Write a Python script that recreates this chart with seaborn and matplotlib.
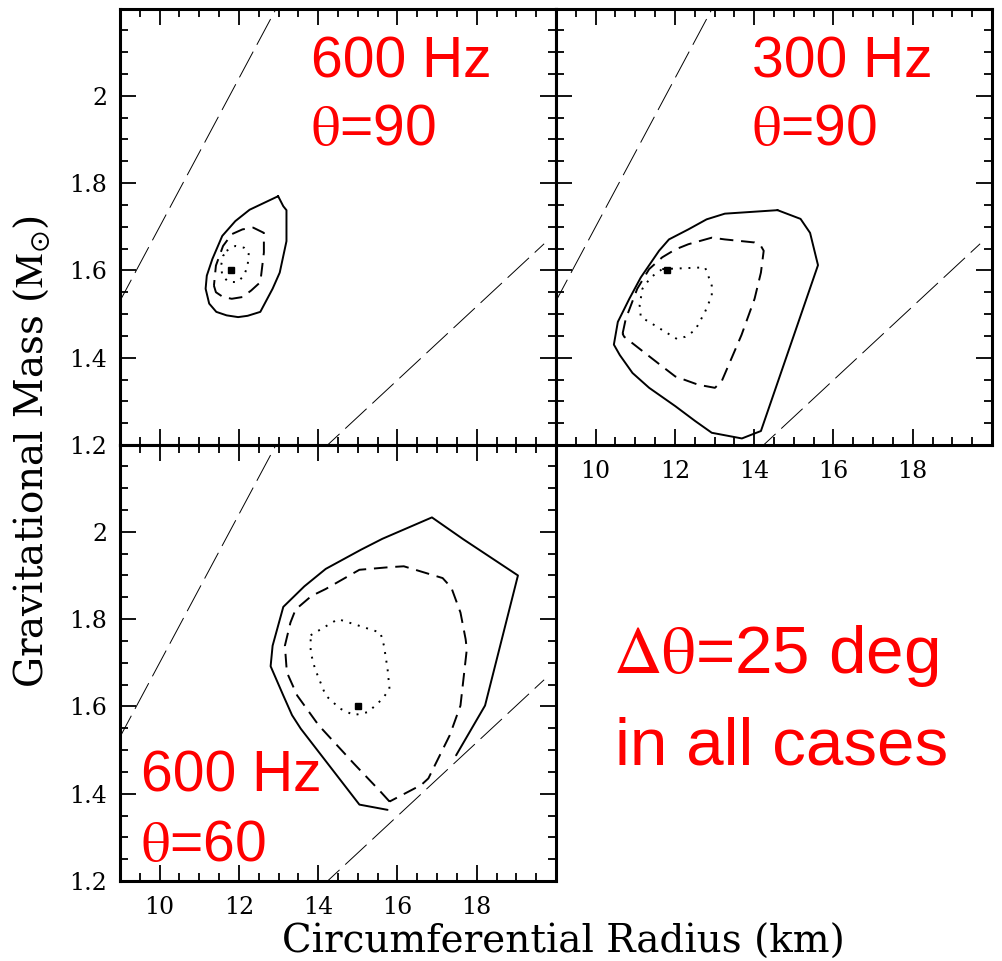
import numpy as np
import pandas as pd
import matplotlib
matplotlib.use("Agg")
import matplotlib.pyplot as plt
import seaborn as sns
from matplotlib.ticker import MultipleLocator, FixedLocator, FuncFormatter

sns.set_style("ticks")
plt.rcParams['font.family'] = ['DejaVu Serif']
plt.rcParams['mathtext.fontset'] = 'stix'
plt.rcParams['axes.edgecolor'] = 'black'
plt.rcParams['xtick.color'] = 'black'
plt.rcParams['ytick.color'] = 'black'
plt.rcParams['text.color'] = 'black'

# ---- data (R in km, M in solar masses) ----
# panel a: 600 Hz, theta=90
a_best = (11.8, 1.6)
a_solid_r = [12.99, 13.12, 13.20, 13.20, 13.03, 12.85, 12.54, 12.22, 11.98, 11.69, 11.43, 11.25, 11.16, 11.19, 11.33, 11.58, 11.91, 12.27]
a_solid_m = [1.770, 1.747, 1.738, 1.667, 1.595, 1.558, 1.505, 1.496, 1.493, 1.497, 1.505, 1.524, 1.558, 1.588, 1.626, 1.679, 1.713, 1.739]
a_dash_r = [11.37, 11.42, 11.60, 11.82, 12.09, 12.31, 12.54, 12.58, 12.63, 12.63, 12.36, 12.09, 11.82, 11.60, 11.42]
a_dash_m = [1.565, 1.550, 1.539, 1.535, 1.539, 1.554, 1.573, 1.603, 1.641, 1.686, 1.698, 1.694, 1.683, 1.656, 1.611]
a_dot_r = [11.69, 11.91, 12.13, 12.25, 12.22, 12.13, 11.96, 11.73, 11.58, 11.55, 11.60]
a_dot_m = [1.645, 1.656, 1.652, 1.641, 1.611, 1.588, 1.573, 1.574, 1.588, 1.611, 1.633]

# panel b: 300 Hz, theta=90
b_best = (11.8, 1.6)
b_solid_r = [14.59, 15.17, 15.41, 15.61, 14.17, 13.97, 13.69, 12.93, 12.51, 12.01, 11.35, 10.93, 10.61, 10.46, 10.56, 10.85, 11.14, 11.60, 11.85, 12.34, 12.80, 13.26]
b_solid_m = [1.738, 1.718, 1.686, 1.612, 1.232, 1.225, 1.215, 1.228, 1.255, 1.289, 1.331, 1.365, 1.406, 1.430, 1.482, 1.535, 1.584, 1.645, 1.671, 1.694, 1.717, 1.730]
b_dash_r = [10.68, 10.76, 11.05, 11.35, 11.68, 12.01, 12.34, 12.93, 13.26, 14.01, 14.17, 14.24, 14.17, 14.01, 13.68, 13.18, 13.01, 12.59, 12.01, 11.68, 11.10, 10.72]
b_dash_m = [1.455, 1.489, 1.558, 1.603, 1.630, 1.648, 1.660, 1.675, 1.671, 1.664, 1.656, 1.645, 1.595, 1.535, 1.452, 1.346, 1.331, 1.338, 1.357, 1.380, 1.421, 1.448]
b_dot_r = [11.68, 12.76, 12.84, 12.93, 12.93, 12.76, 12.51, 12.26, 12.05, 11.76, 11.35, 11.14, 11.11, 11.18, 11.39]
b_dot_m = [1.603, 1.607, 1.588, 1.565, 1.542, 1.505, 1.463, 1.448, 1.443, 1.459, 1.482, 1.493, 1.520, 1.558, 1.584]

# panel c: 600 Hz, theta=60 (solid contour is open, cut by the lower bound)
c_best = (15.0, 1.6)
c_solid_r = [15.75, 15.04, 13.56, 13.34, 13.12, 12.80, 12.85, 13.12, 13.65, 14.19, 15.08, 15.62, 16.87, 17.66, 19.04, 18.21, 17.48]
c_solid_m = [1.363, 1.375, 1.549, 1.580, 1.625, 1.692, 1.739, 1.828, 1.875, 1.915, 1.959, 1.984, 2.033, 1.983, 1.900, 1.602, 1.488]
c_dash_r = [15.80, 15.57, 14.90, 14.01, 13.47, 13.21, 13.16, 13.30, 13.43, 13.83, 14.19, 15.04, 15.80, 16.16, 17.14, 17.36, 17.59, 17.72, 17.75, 17.59, 17.32, 16.78, 16.60]
c_dash_m = [1.382, 1.405, 1.469, 1.557, 1.625, 1.678, 1.739, 1.792, 1.822, 1.853, 1.869, 1.913, 1.919, 1.921, 1.894, 1.872, 1.815, 1.754, 1.731, 1.602, 1.534, 1.435, 1.420]
c_dot_r = [13.81, 14.50, 14.99, 15.57, 15.66, 15.75, 15.80, 15.62, 15.26, 14.90, 14.55, 14.19, 13.92, 13.81]
c_dot_m = [1.763, 1.800, 1.786, 1.769, 1.739, 1.686, 1.640, 1.617, 1.587, 1.580, 1.595, 1.625, 1.686, 1.724]

# the two long-dashed bounding lines (same in every panel)
upper_r = [8.5, 13.2]
upper_m = [1.445, 2.244]
lower_r = [14.0, 19.7]
lower_m = [1.180, 1.661]

panel_labels = [("600 Hz", "90"), ("300 Hz", "90"), ("600 Hz", "60")]


def closed(r, m):
    return pd.DataFrame({"R": list(r) + [r[0]], "M": list(m) + [m[0]]})


def draw_panel(ax, solid, dash, dot, best, solid_closed=True):
    kw = dict(x="R", y="M", sort=False, estimator=None, color="black", ax=ax, legend=False)
    sns.lineplot(data=pd.DataFrame({"R": upper_r, "M": upper_m}), lw=0.7, **kw).lines[-1].set_dashes((30, 8))
    sns.lineplot(data=pd.DataFrame({"R": lower_r, "M": lower_m}), lw=0.7, **kw).lines[-1].set_dashes((30, 8))
    sdf = closed(*solid) if solid_closed else pd.DataFrame({"R": solid[0], "M": solid[1]})
    sns.lineplot(data=sdf, lw=1.4, **kw)
    sns.lineplot(data=closed(*dash), lw=1.4, **kw).lines[-1].set_dashes((7, 4))
    sns.lineplot(data=closed(*dot), lw=1.4, **kw).lines[-1].set_dashes((1, 3.5))
    ax.plot([best[0]], [best[1]], marker="s", ms=4.5, color="black", ls="none")

    ax.set_xlim(9, 20)
    ax.set_ylim(1.2, 2.2)
    ax.xaxis.set_major_locator(FixedLocator([10, 12, 14, 16, 18]))
    ax.xaxis.set_minor_locator(MultipleLocator(0.5))
    ax.yaxis.set_major_locator(FixedLocator([1.2, 1.4, 1.6, 1.8, 2.0]))
    ax.yaxis.set_minor_locator(MultipleLocator(0.05))
    ax.yaxis.set_major_formatter(FuncFormatter(lambda v, p: "%g" % round(v, 2)))
    ax.tick_params(which="both", direction="in", top=True, right=True, width=1.3,
                   labelsize=17, color="black", labelcolor="black")
    ax.tick_params(which="major", length=11.5)
    ax.tick_params(which="minor", length=5.5)
    ax.tick_params(axis="x", pad=11)
    ax.tick_params(axis="y", pad=9)
    for s in ax.spines.values():
        s.set_linewidth(2.2)
        s.set_color("black")
    ax.set_xlabel("")
    ax.set_ylabel("")


fig = plt.figure(figsize=(10.02, 9.61), dpi=100)
W, H = 0.43513, 0.4542
ax_a = fig.add_axes([0.11976, 0.53694, W, H])
ax_b = fig.add_axes([0.55489, 0.53694, W, H])
ax_c = fig.add_axes([0.11976, 0.08325, W, H])

draw_panel(ax_a, (a_solid_r, a_solid_m), (a_dash_r, a_dash_m), (a_dot_r, a_dot_m), a_best)
draw_panel(ax_b, (b_solid_r, b_solid_m), (b_dash_r, b_dash_m), (b_dot_r, b_dot_m), b_best)
draw_panel(ax_c, (c_solid_r, c_solid_m), (c_dash_r, c_dash_m), (c_dot_r, c_dot_m), c_best, solid_closed=False)

ax_a.tick_params(labelbottom=False)
ax_b.tick_params(labelleft=False)

red = "#ff0000"
tkw = dict(color=red, fontsize=41, family="Liberation Sans", va="baseline", ha="left")
for ax, (freq, th), (x0, y1, y2) in zip([ax_a, ax_b, ax_c], panel_labels,
                                         [(0.438, 0.842, 0.687), (0.450, 0.842, 0.687), (0.048, 0.204, 0.046)]):
    ax.text(x0, y1, freq, transform=ax.transAxes, **tkw)
    ax.text(x0, y2, r"$\mathrm{\theta}$=" + th, transform=ax.transAxes, **tkw)

fig.text(0.612, 0.2997, r"$\mathrm{\Delta\theta}$=25 deg", color=red, fontsize=48.5,
         family="Liberation Sans", va="baseline", ha="left")
fig.text(0.614, 0.204, "in all cases", color=red, fontsize=48.5,
         family="Liberation Sans", va="baseline", ha="left")

fig.text(563 / 1002, 1 - 953 / 961, "Circumferential Radius (km)", fontsize=28,
         ha="center", va="baseline")
fig.text(32 / 1002, 1 - 452 / 961, r"Gravitational Mass ($\mathrm{M}_{\odot}$)", fontsize=28,
         ha="center", va="center", rotation=90)

fig.savefig("out.png", dpi=100)
